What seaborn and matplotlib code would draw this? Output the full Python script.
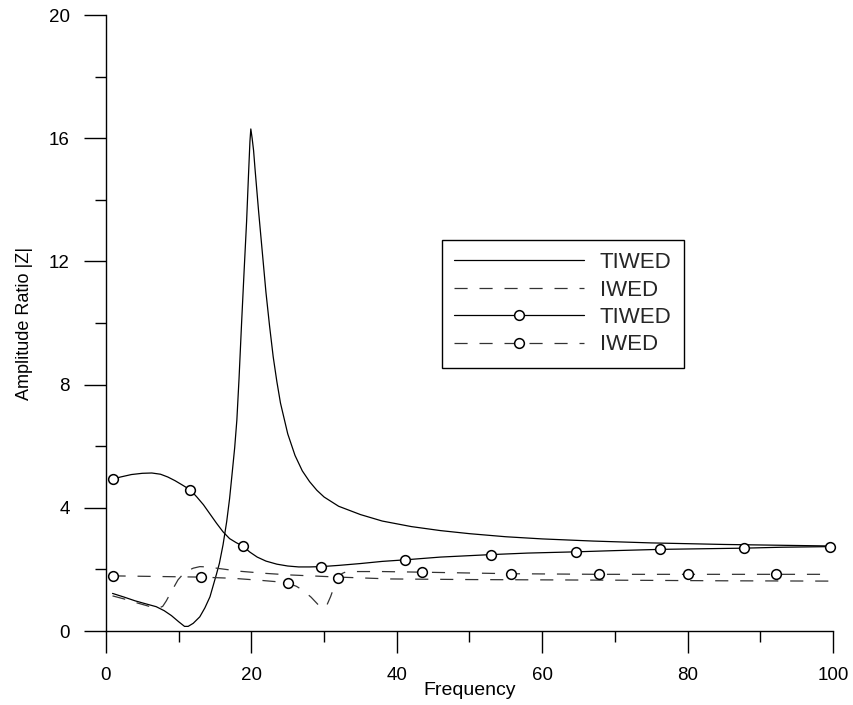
import numpy as np
import pandas as pd
import matplotlib
matplotlib.use("Agg")
import matplotlib.pyplot as plt
import seaborn as sns

# ---------------- data ----------------
# TIWED (solid, no markers)
tiwed_x = [0.9, 2.5, 4.0, 5.5, 6.9, 8.0, 9.0, 10.0, 10.8, 11.3, 12.0, 12.9, 13.6,
           14.3, 15.2, 15.6, 16.1, 16.6, 17.0, 17.3, 17.7, 18.0, 18.3, 18.65,
           19.0, 19.34, 19.6, 19.8, 19.92, 20.1, 20.3, 20.5, 21.0, 21.5, 22.0,
           22.5, 23.0, 23.5, 24.0, 25.0, 26.0, 27.0, 28.0, 29.0, 30.0, 32.0,
           35.0, 38.0, 42.0, 46.0, 50.0, 55.0, 60.0, 67.0, 75.0, 85.0, 99.7]
tiwed_y = [1.22, 1.1, 0.98, 0.88, 0.79, 0.66, 0.5, 0.3, 0.15, 0.15, 0.25, 0.46,
           0.75, 1.11, 1.85, 2.2, 2.8, 3.55, 4.3, 5.0, 5.95, 6.85, 8.2, 10.0,
           11.7, 13.3, 14.8, 15.9, 16.3, 16.0, 15.6, 15.0, 13.6, 12.3, 11.0,
           9.9, 8.9, 8.1, 7.4, 6.4, 5.7, 5.2, 4.85, 4.57, 4.35, 4.05, 3.78,
           3.57, 3.39, 3.26, 3.16, 3.06, 2.99, 2.92, 2.86, 2.81, 2.76]

# IWED (dashed, no markers)
iwed_x = [0.9, 2.5, 4.0, 5.5, 6.5, 7.2, 7.8, 8.3, 8.8, 9.4, 9.9, 10.5, 11.1,
          12.0, 12.9, 14.0, 15.5, 18.4, 22.0, 25.3, 32.0, 39.1, 50.0, 70.0,
          85.0, 99.7]
iwed_y = [1.14, 1.04, 0.93, 0.83, 0.76, 0.74, 0.8, 0.98, 1.2, 1.45, 1.66, 1.82,
          1.94, 2.04, 2.09, 2.08, 2.03, 1.94, 1.87, 1.82, 1.75, 1.69, 1.67,
          1.65, 1.63, 1.62]

# TIWED with circle markers (solid)
tiwedc_x = [0.9, 2.0, 3.5, 5.0, 6.3, 7.5, 8.5, 9.5, 10.5, 11.6, 12.5, 13.4, 14.3,
            15.2, 16.1, 17.0, 17.9, 18.8, 19.8, 20.8, 22.0, 23.5, 25.0, 26.5,
            28.0, 29.6, 32.0, 35.0, 38.0, 41.1, 46.0, 52.9, 58.0, 64.6, 70.0,
            76.2, 82.0, 87.8, 93.0, 99.6]
tiwedc_y = [4.93, 5.0, 5.08, 5.12, 5.13, 5.09, 5.0, 4.88, 4.74, 4.58, 4.35, 4.1,
            3.8, 3.5, 3.22, 3.0, 2.87, 2.76, 2.56, 2.4, 2.27, 2.17, 2.11, 2.08,
            2.08, 2.09, 2.13, 2.19, 2.26, 2.31, 2.4, 2.48, 2.53, 2.57, 2.61,
            2.65, 2.67, 2.69, 2.72, 2.74]
tiwedc_marks = [0, 9, 17, 25, 29, 31, 33, 35, 37, 39]

# IWED with circle markers (dashed)
iwedc_x = [0.9, 7.0, 13.1, 17.5, 21.0, 23.5, 25.1, 26.2, 27.1, 28.2, 29.2, 29.9,
           30.4, 30.9, 31.4, 31.9, 32.5, 33.1, 38.0, 43.4, 55.7, 67.8, 80.0,
           92.1, 99.7]
iwedc_y = [1.79, 1.77, 1.75, 1.71, 1.65, 1.6, 1.55, 1.45, 1.32, 1.1, 0.85, 0.74,
           0.85, 1.12, 1.45, 1.73, 1.87, 1.93, 1.93, 1.91, 1.86, 1.84, 1.84,
           1.84, 1.84]
iwedc_marks = [0, 2, 6, 15, 19, 20, 21, 22, 23]

labels = ["TIWED", "IWED", "TIWED", "IWED"]

# ---------------- styling ----------------
sns.set_style("ticks")
plt.rcParams["font.family"] = ["Liberation Sans", "DejaVu Sans"]

W, H = 854, 705
fig = plt.figure(figsize=(W / 100, H / 100), dpi=100)
ax = fig.add_axes([106 / W, 74 / H, 727 / W, 616 / H])

dash = (0, (10.5, 9.5))
lw = 0.9

sns.lineplot(x=tiwed_x, y=tiwed_y, ax=ax, color="black", linewidth=lw,
             estimator=None, sort=False, label=labels[0])
sns.lineplot(x=iwed_x, y=iwed_y, ax=ax, color="#333333", linewidth=lw,
             linestyle=dash, estimator=None, sort=False, label=labels[1])
sns.lineplot(x=tiwedc_x, y=tiwedc_y, ax=ax, color="black", linewidth=lw,
             marker="o", markersize=7, markerfacecolor="white",
             markeredgecolor="black", markeredgewidth=1.1,
             markevery=tiwedc_marks, estimator=None, sort=False,
             label=labels[2], clip_on=False)
sns.lineplot(x=iwedc_x, y=iwedc_y, ax=ax, color="#333333", linewidth=lw,
             linestyle=dash, marker="o", markersize=7, markerfacecolor="white",
             markeredgecolor="black", markeredgewidth=1.1,
             markevery=iwedc_marks, estimator=None, sort=False,
             label=labels[3], clip_on=False)

ax.set_xlim(0, 100)
ax.set_ylim(0, 20)
ax.set_xticks(np.arange(0, 101, 20))
ax.set_xticks(np.arange(10, 100, 20), minor=True)
ax.set_yticks(np.arange(0, 21, 4))
ax.set_yticks(np.arange(2, 20, 4), minor=True)

for s in ["top", "right"]:
    ax.spines[s].set_visible(False)
for s in ["left", "bottom"]:
    ax.spines[s].set_color("black")
    ax.spines[s].set_linewidth(1.0)

ax.tick_params(axis="both", which="major", length=16, width=1.0,
               color="black", labelsize=13.5, labelcolor="black", pad=10)
ax.tick_params(axis="both", which="minor", length=8, width=1.0, color="black")

ax.set_xlabel("Frequency", fontsize=14, color="black")
ax.set_ylabel("Amplitude Ratio |Z|", fontsize=13, color="black")
ax.xaxis.set_label_coords(0.5, -0.082)
ax.yaxis.set_label_coords(-0.1, 0.5)

leg = ax.legend(loc="upper left", bbox_to_anchor=(0.462, 0.635),
                borderaxespad=0, fontsize=16, handlelength=5.85,
                handletextpad=0.7, labelspacing=0.29, borderpad=0.55,
                frameon=True, fancybox=False, framealpha=1, numpoints=1)
leg.get_frame().set_edgecolor("black")
leg.get_frame().set_linewidth(1.0)

fig.savefig("out.png", dpi=100)
